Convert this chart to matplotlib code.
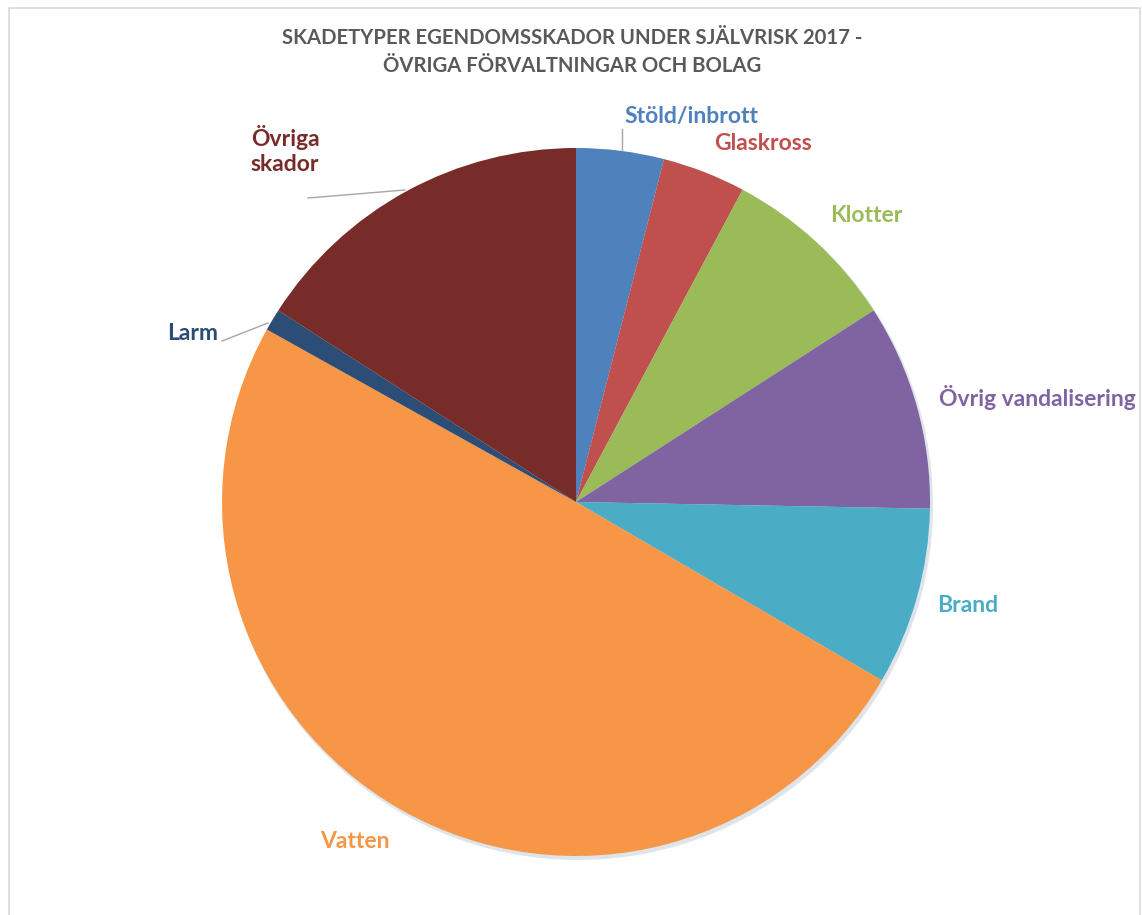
import matplotlib
matplotlib.use("Agg")
import matplotlib.pyplot as plt
from matplotlib.patches import Rectangle, Circle
from matplotlib import font_manager

categories = ["Stöld/inbrott", "Glaskross", "Klotter", "Övrig vandalisering",
              "Brand", "Vatten", "Larm", "Övriga\nskador"]
values = [4.0, 3.8, 8.1, 9.4, 8.1, 49.7, 1.0, 15.9]
colors = ["#4F81BD", "#C0504D", "#9BBB59", "#8064A2",
          "#4BACC6", "#F79646", "#2C4D75", "#772C2A"]
title = "SKADETYPER EGENDOMSSKADOR UNDER SJÄLVRISK 2017 -\nÖVRIGA FÖRVALTNINGAR OCH BOLAG"

names = {f.name for f in font_manager.fontManager.ttflist}
label_font = [f for f in ["Lato", "Open Sans", "DejaVu Sans"] if f in names]
title_font = [f for f in ["Liberation Sans Narrow", "Lato", "DejaVu Sans"] if f in names]

W, H = 1142, 915
fig = plt.figure(figsize=(W / 100, H / 100), dpi=100)
ax = fig.add_axes([0, 0, 1, 1])

def Y(y):
    return H - y

cx, cy, r = 576, Y(502), 354
wedges, _ = ax.pie(values, colors=colors, startangle=90, counterclock=False,
                   center=(cx, cy), radius=r, frame=True,
                   wedgeprops=dict(linewidth=0, zorder=2))
ax.set_xlim(0, W)
ax.set_ylim(0, H)
ax.set_aspect("equal")
ax.axis("off")

# frame
ax.add_patch(Rectangle((9, -20), 1131, Y(8) + 20, fill=False, edgecolor="#D9D9D9", lw=1.2))
# subtle shadow
ax.add_patch(Circle((cx + 2, cy - 3), r + 1, facecolor="#C9D3DC", edgecolor="none", alpha=0.6, zorder=1))

ax.text(W / 2 + 1, Y(52), title, ha="center", va="center", fontsize=14.6,
        fontweight="bold", color="#595959", family=title_font, linespacing=1.5)

label_pos = [(691, 117), (763, 144), (866, 216), (1037, 398),
             (968, 605), (355, 842), (193, 334), (285, 150)]
for name, col, (lx, ly) in zip(categories, colors, label_pos):
    ax.text(lx, Y(ly), name, ha="center", va="center", fontsize=16.5,
            fontweight="bold", color=col, family=label_font, linespacing=1.25, zorder=5)

# leader lines
leaders = [((622, 129), (622, 150)), ((308, 198), (405, 190)), ((222, 341), (268, 323))]
for (x0, y0), (x1, y1) in leaders:
    ax.plot([x0, x1], [Y(y0), Y(y1)], color="#A6A6A6", lw=1.0, zorder=3)

fig.savefig("out.png", dpi=100, facecolor="white")
